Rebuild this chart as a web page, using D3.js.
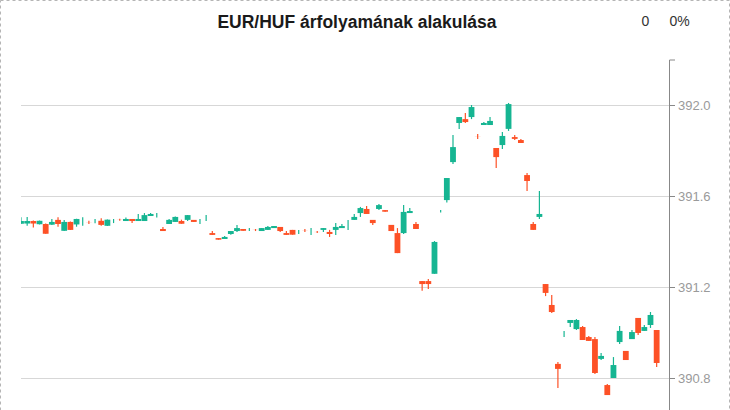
<!DOCTYPE html>
<html>
<head>
<meta charset="utf-8">
<script src="https://cdn.jsdelivr.net/npm/d3@7"></script>
<style>
  html, body { margin: 0; padding: 0; background: #fff; }
  svg { display: block; font-family: "Liberation Sans", Arial, sans-serif; }
</style>
</head>
<body>
<svg id="chart" width="730" height="410"></svg>
<script>
const title = "EUR/HUF árfolyamának alakulása";
const infoLabels = ["0", "0%"];
const yTicks = [390.8, 391.2, 391.6, 392.0];

const opens = [391.478,391.479,391.490,391.476,391.477,391.474,391.495,391.447,391.486,391.475,
391.488,391.484,391.490,391.491,391.469,391.490,391.496,391.490,391.499,391.490,
391.490,391.512,391.514,391.455,391.477,391.486,391.490,391.495,391.495,391.488,
391.503,391.437,391.415,391.411,391.433,391.446,391.455,391.453,391.451,391.446,
391.451,391.459,391.464,391.437,391.451,391.442,391.448,391.444,391.442,391.451,
391.442,391.451,391.459,391.473,391.495,391.525,391.543,391.495,391.543,391.538,
391.473,391.437,391.437,391.525,391.477,391.226,391.226,391.258,391.533,391.582,
391.749,391.921,391.938,391.947,391.862,391.912,391.912,391.811,391.824,391.895,
391.859,391.846,391.692,391.477,391.508,391.213,391.121,390.862,390.993,391.042,
391.015,391.024,390.980,390.971,390.884,390.769,390.800,390.958,390.919,390.971,
391.064,391.007,391.033,391.011];

const highs = [391.507,391.508,391.492,391.492,391.479,391.499,391.507,391.495,391.488,391.500,
391.507,391.491,391.499,391.502,391.497,391.499,391.500,391.506,391.499,391.521,
391.525,391.525,391.525,391.464,391.499,391.510,391.496,391.516,391.495,391.499,
391.516,391.446,391.415,391.424,391.446,391.473,391.455,391.459,391.455,391.459,
391.468,391.468,391.464,391.446,391.451,391.451,391.455,391.459,391.446,391.459,
391.451,391.481,391.477,391.495,391.521,391.552,391.556,391.495,391.565,391.538,
391.473,391.459,391.560,391.547,391.486,391.226,391.235,391.402,391.538,391.679,
391.868,391.947,391.965,392.000,391.873,391.925,391.947,391.811,391.881,392.009,
391.868,391.851,391.701,391.486,391.622,391.213,391.165,390.870,391.007,391.055,
391.059,391.029,390.985,390.980,390.910,390.774,390.892,391.029,390.919,391.011,
391.064,391.033,391.090,391.011];

const lows = [391.477,391.469,391.461,391.475,391.434,391.473,391.465,391.446,391.451,391.465,
391.469,391.477,391.480,391.469,391.468,391.481,391.491,391.490,391.481,391.490,
391.490,391.512,391.505,391.446,391.477,391.486,391.478,391.490,391.486,391.477,
391.490,391.429,391.408,391.411,391.430,391.442,391.447,391.446,391.446,391.446,
391.451,391.459,391.442,391.429,391.430,391.433,391.442,391.429,391.437,391.442,
391.420,391.429,391.459,391.451,391.495,391.508,391.521,391.473,391.538,391.531,
391.446,391.349,391.433,391.525,391.455,391.184,391.191,391.258,391.527,391.571,
391.741,391.895,391.921,391.938,391.851,391.912,391.912,391.723,391.807,391.886,
391.846,391.833,391.622,391.451,391.499,391.160,391.086,390.756,390.980,391.024,
391.011,390.967,390.963,390.818,390.879,390.725,390.800,390.949,390.879,390.971,
390.989,391.007,391.020,390.848];

const closes = [391.490,391.490,391.479,391.491,391.434,391.486,391.477,391.486,391.451,391.499,
391.488,391.4835,391.490,391.473,391.496,391.490,391.4955,391.499,391.490,391.499,
391.516,391.521,391.514,391.446,391.495,391.508,391.478,391.516,391.486,391.488,
391.503,391.429,391.408,391.420,391.446,391.459,391.447,391.453,391.4505,391.459,
391.464,391.468,391.446,391.429,391.430,391.442,391.4475,391.444,391.4415,391.459,
391.433,391.464,391.468,391.473,391.508,391.547,391.521,391.481,391.560,391.531,
391.446,391.349,391.530,391.534,391.455,391.213,391.213,391.398,391.533,391.679,
391.815,391.947,391.925,391.991,391.8615,391.921,391.930,391.771,391.864,392.004,
391.851,391.833,391.666,391.451,391.521,391.174,391.090,390.840,390.993,391.055,
391.055,390.967,390.963,390.822,390.897,390.725,390.857,391.007,390.879,391.002,
390.998,391.024,391.077,390.866];

const upColor = "#16b592";
const downColor = "#fd5126";

const svg = d3.select("#chart");
const plotLeft = 21, plotRight = 669, plotTop = 59.5, plotBottom = 469;

// dashed outer border
svg.append("rect")
  .attr("x", 0.5).attr("y", 0.5).attr("width", 729).attr("height", 520)
  .attr("fill", "none").attr("stroke", "#b5b5b5").attr("stroke-dasharray", "3,3");

const n = opens.length;
const x = d3.scaleLinear().domain([0, n + 1]).range([plotLeft, plotRight]);
const y = d3.scaleLinear().domain([390.4, 392.2]).range([plotBottom, plotTop]);

// gridlines
svg.append("g").selectAll("line").data(yTicks).join("line")
  .attr("x1", plotLeft).attr("x2", plotRight)
  .attr("y1", d => Math.round(y(d)) + 0.5).attr("y2", d => Math.round(y(d)) + 0.5)
  .attr("stroke", "#d7d7d7").attr("stroke-width", 1);

// clip
svg.append("defs").append("clipPath").attr("id", "plotclip")
  .append("rect").attr("x", plotLeft).attr("y", 0)
  .attr("width", plotRight - plotLeft).attr("height", 500);

const step = x(1) - x(0);
const bw = step * 0.94;
const candles = svg.append("g").attr("clip-path", "url(#plotclip)")
  .selectAll("g").data(d3.range(n)).join("g");

const col = i => closes[i] >= opens[i] ? upColor : downColor;

candles.append("line")
  .attr("x1", i => x(i)).attr("x2", i => x(i))
  .attr("y1", i => y(highs[i])).attr("y2", i => y(lows[i]))
  .attr("stroke", col).attr("stroke-width", 1.2);

candles.append("rect")
  .attr("x", i => x(i) - bw / 2)
  .attr("width", bw)
  .attr("y", i => y(Math.max(opens[i], closes[i])))
  .attr("height", i => Math.abs(y(opens[i]) - y(closes[i])))
  .attr("fill", col);

// right axis
const axis = d3.axisRight(y).tickValues(yTicks).tickFormat(d3.format(".1f")).tickSize(6);
const ag = svg.append("g").attr("transform", `translate(${plotRight},0)`).call(axis);
ag.select(".domain").attr("stroke", "#888");
ag.selectAll(".tick line").attr("stroke", "#888");
ag.selectAll(".tick text").attr("fill", "#9a9a9a").style("font-size", "13px")
  .style("font-family", "'Liberation Sans', Arial, sans-serif");

// title
svg.append("text").attr("x", 357).attr("y", 27.5).attr("text-anchor", "middle")
  .style("font-size", "17.5px").style("font-weight", "bold").attr("fill", "#1a1a1a")
  .text(title);

svg.append("text").attr("x", 641.5).attr("y", 26).style("font-size", "14px")
  .attr("fill", "#333").text(infoLabels[0]);
svg.append("text").attr("x", 669.5).attr("y", 26).style("font-size", "14px")
  .attr("fill", "#333").text(infoLabels[1]);
</script>
</body>
</html>
